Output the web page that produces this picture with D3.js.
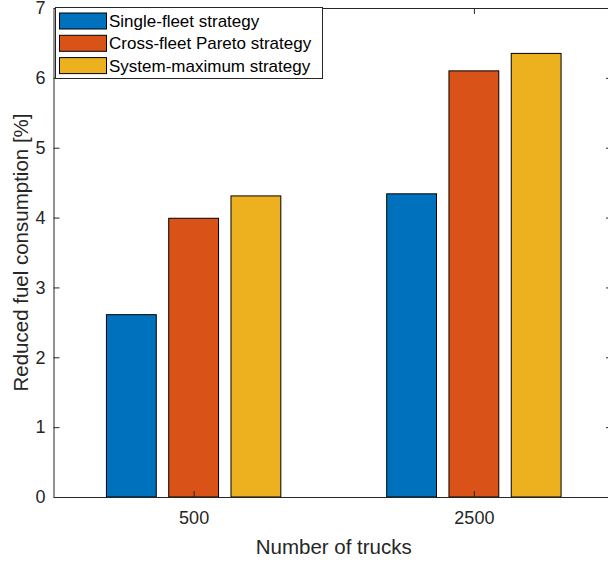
<!DOCTYPE html>
<html>
<head>
<meta charset="utf-8">
<script src="https://cdn.jsdelivr.net/npm/d3@7"></script>
<style>
  html, body { margin: 0; padding: 0; background: #fff; }
  svg { display: block; font-family: "Liberation Sans", Arial, Helvetica, sans-serif; }
</style>
</head>
<body>
<svg id="chart" width="608" height="561"></svg>
<script>
// ---- data ----
const categories = ["500", "2500"];
const seriesNames = ["Single-fleet strategy", "Cross-fleet Pareto strategy", "System-maximum strategy"];
const singleFleet = [2.61, 4.34];
const crossFleetPareto = [3.99, 6.10];
const systemMaximum = [4.31, 6.35];
const yTicks = [0, 1, 2, 3, 4, 5, 6, 7];
const seriesColors = ["#0072BD", "#D95319", "#EDB120"];
const xLabel = "Number of trucks";
const yLabel = "Reduced fuel consumption [%]";

const seriesValues = [singleFleet, crossFleetPareto, systemMaximum];

// ---- layout ----
const svg = d3.select("#chart");
const pLeft = 53.5, pRight = 614, pTop = 8, pBottom = 497;
const axisColor = "#262626";

const x = d3.scaleLinear().domain([0.5, categories.length + 0.5]).range([pLeft, pRight]);
const y = d3.scaleLinear().domain([0, 7]).range([pBottom, pTop]);

// MATLAB grouped bar geometry
const nS = seriesValues.length;
const groupWidth = Math.min(0.8, nS / (nS + 1.5));
const step = groupWidth / nS;
const barW = step * 0.8;

const g = svg.append("g");

// bars
seriesValues.forEach((vals, si) => {
  g.selectAll(null)
    .data(vals.map((v, ci) => ({ v, ci })))
    .enter()
    .append("rect")
    .attr("x", d => x(d.ci + 1 - groupWidth / 2 + step * (si + 0.5) - barW / 2))
    .attr("width", d => x(barW) - x(0))
    .attr("y", d => y(d.v))
    .attr("height", d => y(0) - y(d.v))
    .attr("fill", seriesColors[si])
    .attr("stroke", "#000")
    .attr("stroke-width", 1);
});

// axes
const tickLen = 6;
const xAxisB = d3.axisBottom(x).tickValues(categories.map((c, i) => i + 1))
  .tickFormat((d, i) => categories[i]).tickSizeInner(-tickLen).tickSizeOuter(0).tickPadding(14);
const xAxisT = d3.axisTop(x).tickValues(categories.map((c, i) => i + 1))
  .tickFormat("").tickSizeInner(-tickLen).tickSizeOuter(0);
const yAxisL = d3.axisLeft(y).tickValues(yTicks).tickFormat(d3.format("d"))
  .tickSizeInner(-tickLen).tickSizeOuter(0).tickPadding(8);
const yAxisR = d3.axisRight(y).tickValues(yTicks).tickFormat("")
  .tickSizeInner(-tickLen).tickSizeOuter(0);

function style(sel, fs) {
  sel.select(".domain").attr("stroke", axisColor).attr("stroke-width", 1);
  sel.selectAll(".tick line").attr("stroke", axisColor).attr("stroke-width", 1);
  sel.selectAll(".tick text").attr("fill", axisColor).style("font-size", fs + "px")
     .style("font-family", '"Liberation Sans", Arial, sans-serif');
}

style(g.append("g").attr("transform", `translate(0,${pBottom})`).call(xAxisB), 18);
style(g.append("g").attr("transform", `translate(0,${pTop})`).call(xAxisT), 18);
style(g.append("g").attr("transform", `translate(${pLeft},0)`).call(yAxisL), 18);
style(g.append("g").attr("transform", `translate(${pRight - 2},0)`).call(yAxisR), 18);

// axis labels
g.append("text")
  .attr("x", (pLeft + pRight) / 2)
  .attr("y", 554)
  .attr("text-anchor", "middle")
  .attr("fill", axisColor)
  .style("font-size", "20.5px")
  .text(xLabel);

g.append("text")
  .attr("transform", `translate(28,${(pTop + pBottom) / 2}) rotate(-90)`)
  .attr("text-anchor", "middle")
  .attr("fill", axisColor)
  .style("font-size", "20.5px")
  .text(yLabel);

// legend
const lg = g.append("g");
lg.append("rect").attr("x", 55.5).attr("y", 7.5).attr("width", 267).attr("height", 71)
  .attr("fill", "#fff").attr("stroke", axisColor).attr("stroke-width", 1);
seriesNames.forEach((name, i) => {
  const cy = 21 + i * 22.3;
  lg.append("rect").attr("x", 59.5).attr("y", cy - 8).attr("width", 47).attr("height", 16)
    .attr("fill", seriesColors[i]).attr("stroke", "#000").attr("stroke-width", 1);
  lg.append("text").attr("x", 109).attr("y", cy).attr("dy", "0.36em")
    .attr("fill", "#000").style("font-size", "17px").text(name);
});
</script>
</body>
</html>
